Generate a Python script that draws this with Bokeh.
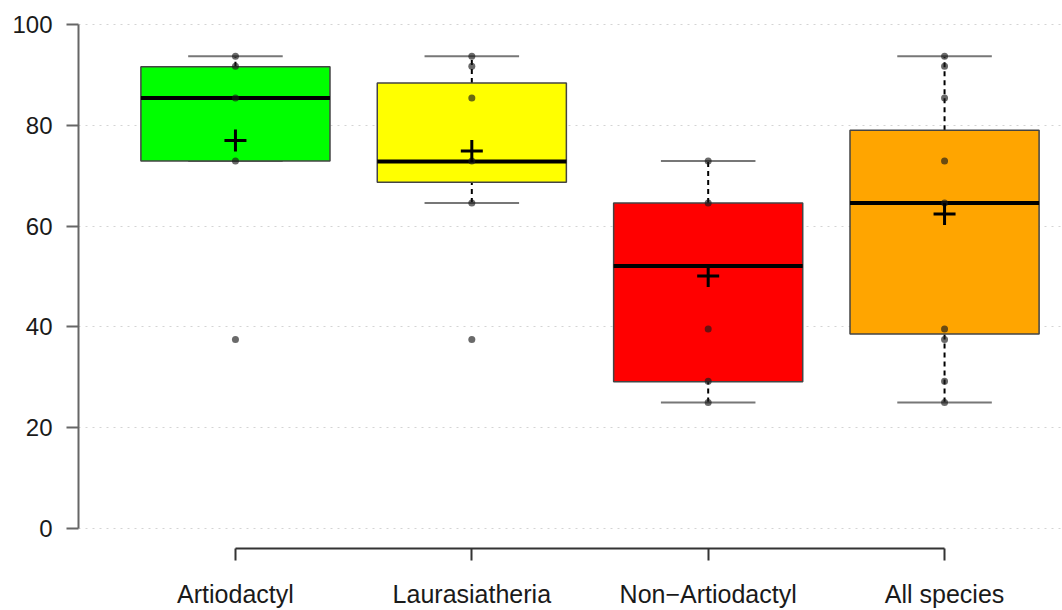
from bokeh.plotting import figure
from bokeh.models import FixedTicker, Range1d, ColumnDataSource
from bokeh.embed import file_html
from bokeh.resources import INLINE

# ---- data ----
groups = ["Artiodactyl", "Laurasiatheria", "Non\u2212Artiodactyl", "All species"]
box_colors = ["#00ff00", "#ffff00", "#ff0000", "#ffa500"]
q1 = [72.9, 68.7, 29.1, 38.6]
median = [85.4, 72.8, 52.1, 64.6]
q3 = [91.6, 88.4, 64.6, 79.0]
whisker_low = [72.9, 64.6, 25.0, 25.0]
whisker_high = [93.7, 93.7, 72.9, 93.7]
means = [77.0, 74.9, 50.1, 62.4]
points_art = [93.7, 91.7, 85.4, 72.9, 37.5]
points_lau = [93.7, 91.7, 85.4, 72.9, 64.6, 37.5]
points_non = [72.9, 64.6, 39.6, 29.2, 25.0]
points_all = [93.7, 91.7, 85.4, 72.9, 64.6, 39.6, 37.5, 29.2, 25.0]
y_ticks = [0, 20, 40, 60, 80, 100]

pos = list(range(1, len(groups) + 1))
box_w = 0.8
cap_w = 0.4
FONT = "Liberation Sans"

p = figure(width=1062, height=610,
           x_range=Range1d(0.336, 4.499), y_range=Range1d(-3.96, 104.75),
           output_backend="svg", toolbar_location=None,
           min_border_left=78, min_border_right=0, min_border_top=0, min_border_bottom=61)
p.outline_line_color = None
p.background_fill_color = "white"
p.border_fill_color = "white"

# grid
p.xgrid.visible = False
p.ygrid.ticker = FixedTicker(ticks=y_ticks)
p.ygrid.grid_line_color = "#d4d4d4"
p.ygrid.grid_line_dash = "2 5"
p.ygrid.grid_line_width = 1

# y axis
p.yaxis.ticker = FixedTicker(ticks=y_ticks)
p.yaxis.bounds = (0, 100)
p.yaxis.axis_line_color = "#666666"
p.yaxis.axis_line_width = 2
p.yaxis.major_tick_line_color = "#666666"
p.yaxis.major_tick_line_width = 2
p.yaxis.major_tick_out = 12
p.yaxis.major_tick_in = 0
p.yaxis.minor_tick_line_color = None
p.yaxis.major_label_text_font = FONT
p.yaxis.major_label_text_font_size = "24px"
p.yaxis.major_label_text_color = "#1a1a1a"
p.yaxis.major_label_standoff = 14

# x axis
p.xaxis.ticker = FixedTicker(ticks=pos)
p.xaxis.major_label_overrides = {i: g for i, g in zip(pos, groups)}
p.xaxis.bounds = (1, len(groups))
p.xaxis.axis_line_color = "#333333"
p.xaxis.axis_line_width = 2
p.xaxis.major_tick_line_color = "#333333"
p.xaxis.major_tick_line_width = 2
p.xaxis.major_tick_out = 12
p.xaxis.major_tick_in = 0
p.xaxis.minor_tick_line_color = None
p.xaxis.major_label_text_font = FONT
p.xaxis.major_label_text_font_size = "25px"
p.xaxis.major_label_text_color = "#1a1a1a"
p.xaxis.major_label_standoff = 19

src = ColumnDataSource(dict(
    x=pos, q1=q1, q3=q3, med=median, lo=whisker_low, hi=whisker_high, mean=means,
    color=box_colors,
    bl=[x - box_w / 2 for x in pos], br=[x + box_w / 2 for x in pos],
    cl=[x - cap_w / 2 for x in pos], cr=[x + cap_w / 2 for x in pos],
))

# whiskers (dashed)
p.segment(x0="x", y0="q3", x1="x", y1="hi", source=src, line_color="black",
          line_width=2, line_dash="5 4")
p.segment(x0="x", y0="lo", x1="x", y1="q1", source=src, line_color="black",
          line_width=2, line_dash="5 4")
# caps
p.segment(x0="cl", y0="hi", x1="cr", y1="hi", source=src, line_color="#777777", line_width=2)
p.segment(x0="cl", y0="lo", x1="cr", y1="lo", source=src, line_color="#777777", line_width=2)
# boxes
p.quad(left="bl", right="br", bottom="q1", top="q3", source=src, fill_color="color",
       line_color="#444444", line_width=1.5)
# medians
p.segment(x0="bl", y0="med", x1="br", y1="med", source=src, line_color="black", line_width=4)

# points
all_pts = [points_art, points_lau, points_non, points_all]
px, py = [], []
for x, pts in zip(pos, all_pts):
    px += [x] * len(pts)
    py += pts
p.scatter(px, py, size=7, color="#1a1a1a", alpha=0.65, line_color=None)

# means
p.scatter(x="x", y="mean", source=src, marker="cross", size=22, line_color="black", line_width=3)

open("out.html", "w").write(file_html(p, INLINE))
